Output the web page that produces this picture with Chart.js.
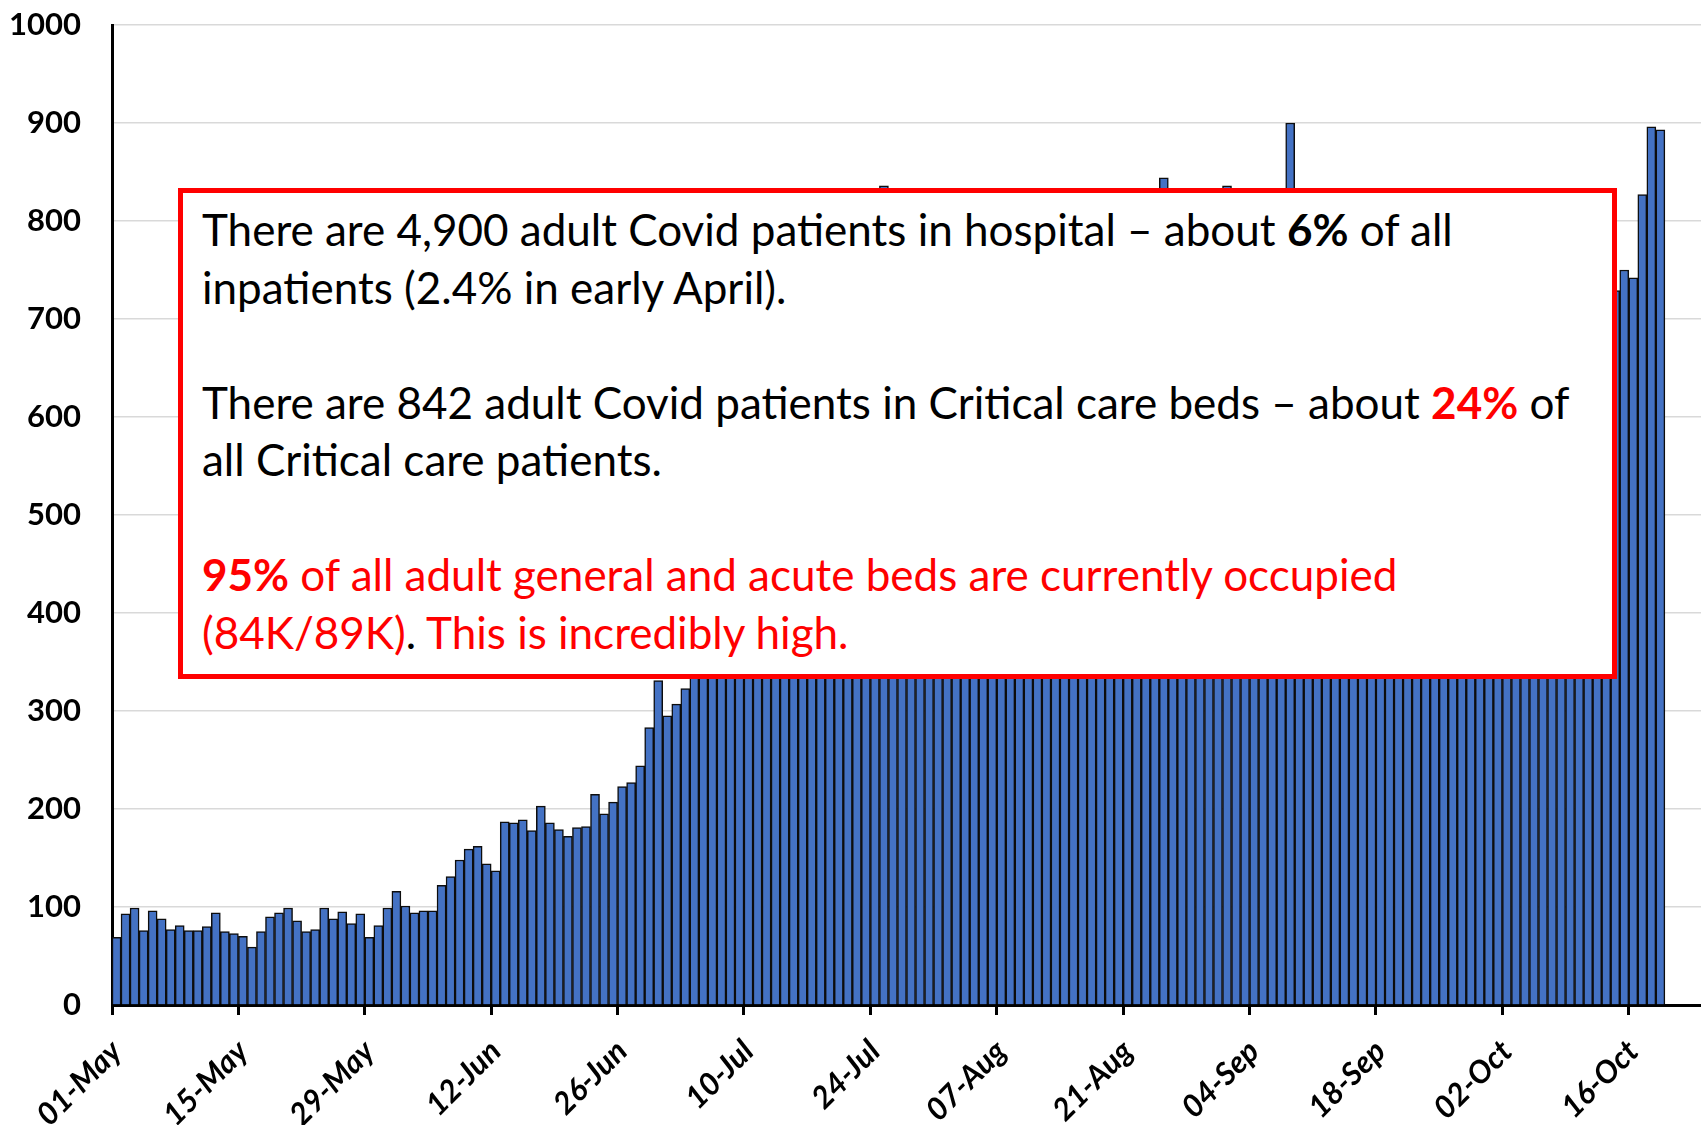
<!DOCTYPE html>
<html>
<head>
<meta charset="utf-8">
<script src="https://cdn.jsdelivr.net/npm/chart.js@4.4.1/dist/chart.umd.min.js"></script>
<style>
  body { margin: 0; background: #fff; }
  #wrap { position: relative; width: 1701px; height: 1125px; }
  #note {
    position: absolute; left: 178px; top: 188px; width: 1439px; height: 491px;
    box-sizing: border-box; border: 5px solid #ff0000; background: #fff;
    padding: 8px 0 0 19px; font-family: Lato, sans-serif; font-size: 44px;
    line-height: 57.5px; white-space: nowrap; color: #000;
  }
  .red { color: #ff0000; }
</style>
</head>
<body>
<div id="wrap">
  <canvas id="chart" width="1701" height="1125"></canvas>
  <div id="note">
    There are 4,900 adult Covid patients in hospital – about <b>6%</b> of all<br>
    inpatients (2.4% in early April).<br>
    <br>
    There are 842 adult Covid patients in Critical care beds – about <b class="red">24%</b> of<br>
    all Critical care patients.<br>
    <br>
    <span class="red"><b>95%</b> of all adult general and acute beds are currently occupied</span><br>
    <span class="red">(84K/89K)</span>. <span class="red">This is incredibly high.</span>
  </div>
</div>
<script>
// adult Covid patients in critical care beds, one value per day
const mayValues = [69, 93, 99, 76, 96, 88, 77, 81, 76, 76, 80, 94, 75, 73, 70, 59, 75, 90, 94, 99, 86, 75, 77, 99, 88, 95, 83, 93, 69, 81, 99];
const juneValues = [116, 101, 94, 96, 96, 122, 131, 148, 159, 162, 144, 137, 187, 186, 189, 178, 203, 186, 179, 172, 181, 182, 215, 195, 207, 223, 227, 244, 283, 331];
const julyValues = [295, 307, 323, 352, 378, 402, 430, 455, 470, 495, 520, 548, 572, 590, 614, 640, 662, 688, 702, 725, 748, 772, 790, 812, 836, 818, 805, 822, 815, 806, 818];
const augustValues = [808, 815, 822, 810, 798, 790, 785, 792, 805, 812, 806, 795, 788, 780, 790, 812, 826, 820, 810, 800, 805, 826, 822, 818, 844, 826, 815, 808, 800, 812, 820];
const septemberValues = [836, 825, 818, 808, 800, 812, 828, 900, 820, 805, 795, 790, 800, 812, 805, 795, 788, 780, 770, 778, 790, 782, 770, 760, 752, 748, 758, 770, 762, 750];
const octoberValues = [740, 732, 725, 735, 745, 738, 728, 720, 712, 705, 715, 728, 720, 729, 750, 742, 827, 896, 893];
const spareDays = ['20-Oct', '21-Oct', '22-Oct', '23-Oct']; // empty room at the right of the axis
const yTicks = [0, 100, 200, 300, 400, 500, 600, 700, 800, 900, 1000];

const months = [['May', mayValues], ['Jun', juneValues], ['Jul', julyValues], ['Aug', augustValues], ['Sep', septemberValues], ['Oct', octoberValues]];
const labels = [], values = [];
months.forEach(([m, arr]) => {
    arr.forEach((v, i) => {
        labels.push(String(i + 1).padStart(2, '0') + '-' + m);
        values.push(v);
    });
});
spareDays.forEach(d => { labels.push(d); values.push(null); });
const lastDay = labels.length - spareDays.length;

const ctx = document.getElementById('chart').getContext('2d');
new Chart(ctx, {
    type: 'bar',
    data: {
        labels: labels,
        datasets: [{
            data: values,
            backgroundColor: '#4472C4',
            borderColor: '#0d0d0d',
            borderWidth: 1.5,
            categoryPercentage: 1,
            barPercentage: 1
        }]
    },
    options: {
        responsive: false, animation: false, devicePixelRatio: 1,
        layout: { padding: { top: 25, left: 0, right: 0, bottom: 0 } },
        plugins: { legend: { display: false }, tooltip: { enabled: false } },
        scales: {
            x: {
                grid: {
                    display: true, drawOnChartArea: false, drawTicks: true, tickLength: 10, offset: true,
                    color: c => (c.index % 14 === 0 && c.index < lastDay) ? '#000' : 'rgba(0,0,0,0)',
                    lineWidth: 3
                },
                border: { display: true, color: '#000', width: 3 },
                ticks: {
                    autoSkip: false, minRotation: 45, maxRotation: 45, padding: 18, color: '#000',
                    font: { family: 'Lato', size: 31, weight: 'bold', style: 'italic' },
                    callback: (v, i) => (i % 14 === 0 && i < lastDay) ? labels[i] : ''
                },
                afterFit: s => {
                    s.height = 120;
                    s.paddingLeft = 0; s.paddingRight = 0; s.paddingTop = 0; s.paddingBottom = 0;
                }
            },
            y: {
                min: 0, max: 1000,
                afterBuildTicks: s => { s.ticks = yTicks.map(v => ({ value: v })); },
                ticks: {
                    padding: 31, color: '#000',
                    font: { family: 'Lato', size: 31, weight: 'bold' },
                    callback: v => String(v)
                },
                grid: { color: '#d9d9d9', lineWidth: 1.5, drawTicks: false },
                border: { display: true, color: '#000', width: 3 },
                afterFit: s => {
                    s.width = 112;
                    s.paddingLeft = 0; s.paddingRight = 0; s.paddingTop = 0; s.paddingBottom = 0;
                }
            }
        }
    }
});
</script>
</body>
</html>
